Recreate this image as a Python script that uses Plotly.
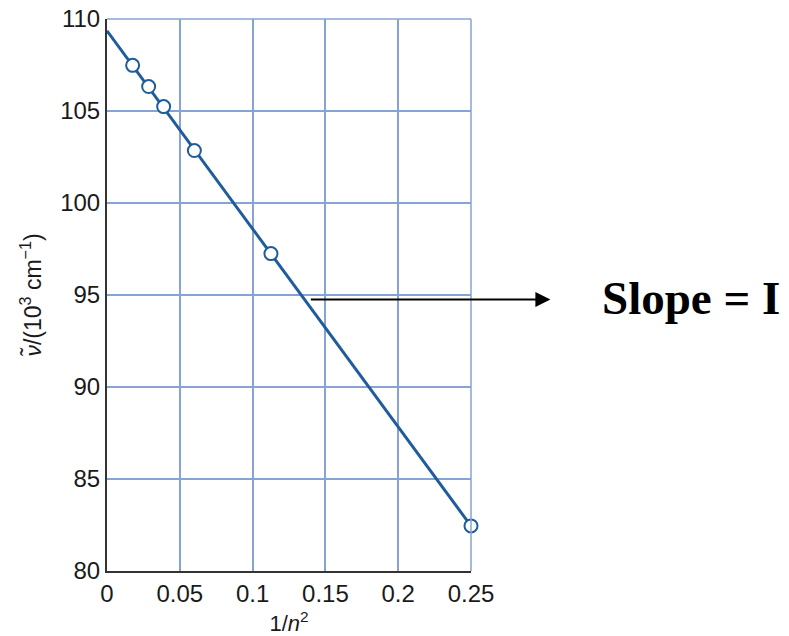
import plotly.graph_objects as go

# data
inv_n2 = [0.0176, 0.0286, 0.0389, 0.060, 0.1126, 0.25]
wavenumber = [107.48, 106.33, 105.24, 102.85, 97.25, 82.45]
fit_x = [0.0, 0.25]
fit_y = [109.36, 82.45]
x_ticks = [0, 0.05, 0.1, 0.15, 0.2, 0.25]
x_tick_labels = ["0", "0.05", "0.1", "0.15", "0.2", "0.25"]
y_ticks = [80, 85, 90, 95, 100, 105, 110]

line_color = "#1f5c9c"
grid_color = "#86a3d6"
axis_color = "#333333"

fig = go.Figure()
fig.add_trace(go.Scatter(x=fit_x, y=fit_y, mode="lines",
                         line=dict(color=line_color, width=3),
                         cliponaxis=False, showlegend=False, hoverinfo="skip"))
fig.add_trace(go.Scatter(x=inv_n2, y=wavenumber, mode="markers",
                         marker=dict(size=13, color="white",
                                     line=dict(color=line_color, width=2)),
                         cliponaxis=False, showlegend=False))

fam = "Liberation Sans, Arial, sans-serif"
font = dict(family=fam, size=24, color="#1a1a1a")

fig.update_layout(
    width=789, height=636,
    margin=dict(l=107, r=318, t=19, b=65),
    plot_bgcolor="white", paper_bgcolor="white",
    font=font,
    xaxis=dict(range=[0, 0.25], tickvals=x_ticks, ticktext=x_tick_labels,
               showgrid=True, gridcolor=grid_color, gridwidth=1.5,
               showline=True, linecolor=axis_color, linewidth=2,
               ticks="", zeroline=False, tickfont=font, automargin=False,
               title=dict(text="1/<i>n</i><sup>2</sup>",
                          font=dict(size=22, family=fam, color="#1a1a1a"), standoff=16)),
    yaxis=dict(range=[80, 110], tickvals=y_ticks,
               showgrid=True, gridcolor=grid_color, gridwidth=1.5,
               showline=True, linecolor=axis_color, linewidth=2,
               ticks="", zeroline=False, tickfont=font, automargin=False,
               title=dict(text="<i>ν̃</i>/(10<sup>3</sup> cm<sup>−1</sup>)",
                          font=dict(size=23, family=fam, color="#1a1a1a"), standoff=12)),
)

# top and right borders as grid-coloured lines
fig.add_shape(type="line", xref="paper", yref="paper", x0=0, x1=1, y0=1, y1=1,
              line=dict(color=grid_color, width=1.5))
fig.add_shape(type="line", xref="paper", yref="paper", x0=1, x1=1, y0=0, y1=1,
              line=dict(color=grid_color, width=1.5))

# arrow (head outside the plot, tail inside)
fig.add_annotation(x=1.218, y=94.75, xref="paper", yref="y",
                   ax=-241, ay=0, axref="pixel", ayref="pixel",
                   text="", showarrow=True, arrowhead=2, arrowsize=1.5,
                   arrowwidth=2, arrowcolor="black")
fig.add_annotation(x=1.605, y=94.85, xref="paper", yref="y",
                   xanchor="center", yanchor="middle",
                   text="<b>Slope = I</b>", showarrow=False,
                   font=dict(family="Liberation Serif, Times New Roman, serif", size=47, color="black"))

fig.write_html("out.html", config={"displayModeBar": False},
               post_script="document.body.style.margin='0';")
